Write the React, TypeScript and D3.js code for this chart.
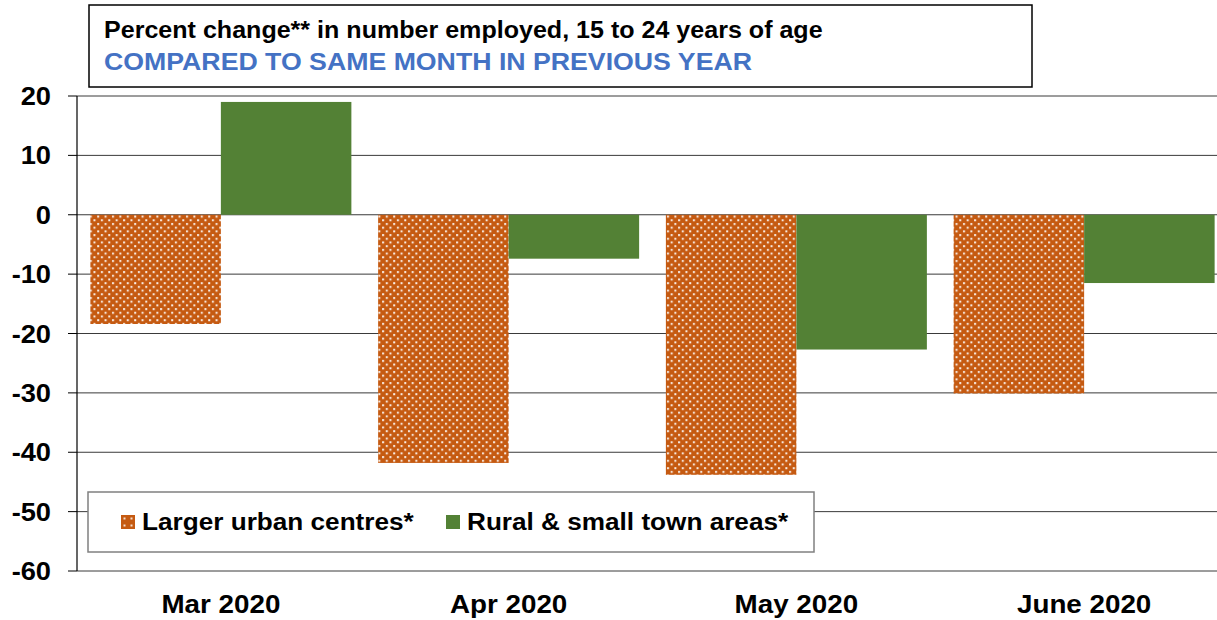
import React from "react";
import * as d3 from "d3";

const categories = ["Mar 2020", "Apr 2020", "May 2020", "June 2020"];
const seriesNames = ["Larger urban centres*", "Rural & small town areas*"];
const urbanValues = [-18.4, -41.8, -43.8, -30.1];
const ruralValues = [19.0, -7.4, -22.7, -11.5];
const yTicks = [20, 10, 0, -10, -20, -30, -40, -50, -60];
const titleLine1 = "Percent change** in number employed, 15 to 24 years of age";
const titleLine2 = "COMPARED TO SAME MONTH IN PREVIOUS YEAR";

const W = 1217;
const H = 620;
const SX = 1.09;
const FONT = "Arial, 'Liberation Sans', Helvetica, sans-serif";
const ORANGE = "#C55A11";
const GREEN = "#538135";

function T(props: {
  x: number;
  y: number;
  size: number;
  anchor?: "start" | "middle" | "end";
  fill?: string;
  children: React.ReactNode;
}) {
  const { x, y, size, anchor = "start", fill = "#000", children } = props;
  return (
    <text
      transform={`translate(${x},${y}) scale(${SX},1)`}
      fontFamily={FONT}
      fontWeight="bold"
      fontSize={size}
      textAnchor={anchor}
      fill={fill}
    >
      {children}
    </text>
  );
}

export default function App() {
  const x0 = d3.scaleBand<string>().domain(categories).range([77, 1228]).padding(0);
  const x1 = d3
    .scaleBand<string>()
    .domain(seriesNames)
    .range([0, x0.bandwidth()])
    .paddingInner(0)
    .paddingOuter(0.1025);
  const y = d3.scaleLinear().domain([-60, 20]).range([571, 96]);

  const series = [
    { name: seriesNames[0], values: urbanValues, fill: "url(#dots)" },
    { name: seriesNames[1], values: ruralValues, fill: GREEN },
  ];

  return (
    <svg
      width={W}
      height={H}
      style={{ position: "absolute", left: 0, top: 0, background: "#fff" }}
    >
      <defs>
        <pattern id="dots" width={7.4} height={7.4} patternUnits="userSpaceOnUse">
          <rect width={7.4} height={7.4} fill={ORANGE} />
          <rect x={1} y={1} width={2} height={2} fill="#fff" opacity={0.9} />
          <rect x={4.7} y={4.7} width={2} height={2} fill="#fff" opacity={0.9} />
        </pattern>
        <pattern id="dotsLegend" width={7} height={7} patternUnits="userSpaceOnUse" x={121} y={515}>
          <rect width={7} height={7} fill={ORANGE} />
          <rect x={2.5} y={2.5} width={2} height={2} fill="#fff" opacity={0.8} />
        </pattern>
      </defs>

      {/* gridlines */}
      {yTicks.map((t) => (
        <g key={t}>
          <line x1={77} x2={W} y1={y(t)} y2={y(t)} stroke="#3a3a3a" strokeWidth={1} />
          <line x1={68} x2={77} y1={y(t)} y2={y(t)} stroke="#000" strokeWidth={1} />
          <T x={51} y={y(t) + 9} size={25} anchor="end">
            {t}
          </T>
        </g>
      ))}

      {/* bars */}
      {series.map((s) => (
        <g key={s.name}>
          {categories.map((c, i) => {
            const v = s.values[i];
            const bx = (x0(c) ?? 0) + (x1(s.name) ?? 0);
            return (
              <rect
                key={c}
                x={bx}
                y={Math.min(y(v), y(0))}
                width={x1.bandwidth()}
                height={Math.abs(y(v) - y(0))}
                fill={s.fill}
              />
            );
          })}
        </g>
      ))}

      {/* y axis line */}
      <line x1={77} x2={77} y1={96} y2={571} stroke="#000" strokeWidth={1.2} />

      {/* category labels */}
      {categories.map((c) => (
        <T key={c} x={(x0(c) ?? 0) + x0.bandwidth() / 2} y={613} size={25.5} anchor="middle">
          {c}
        </T>
      ))}

      {/* title box */}
      <rect x={89} y={5} width={943} height={82} fill="#fff" stroke="#000" strokeWidth={1.5} />
      <T x={104} y={38} size={23}>
        {titleLine1}
      </T>
      <T x={104} y={70} size={24.5} fill="#4472C4">
        {titleLine2}
      </T>

      {/* legend */}
      <rect x={88} y={492} width={726} height={60} fill="#fff" stroke="#808080" strokeWidth={1.5} />
      <rect x={121} y={515} width={14} height={14} fill="url(#dotsLegend)" />
      <T x={142} y={530} size={24}>
        {seriesNames[0]}
      </T>
      <rect x={446} y={515} width={14} height={14} fill={GREEN} />
      <T x={467} y={530} size={24}>
        {seriesNames[1]}
      </T>
    </svg>
  );
}
